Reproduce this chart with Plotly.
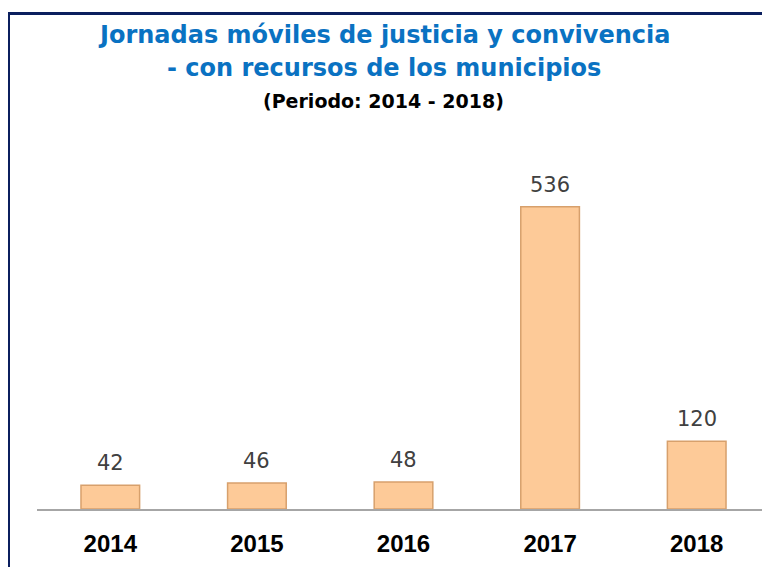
import plotly.graph_objects as go

years = ["2014", "2015", "2016", "2017", "2018"]
values = [42, 46, 48, 536, 120]
title_lines = ["Jornadas móviles de justicia y convivencia", "- con recursos de los municipios"]
subtitle = "(Periodo: 2014 - 2018)"

OFF = 8  # page body margin in the browser
W, H = 770 - OFF, 567 - OFF
L, R, T, B = 37 - OFF, 0, 170 - OFF, 58
pw, ph = W - L - R, H - T - B

def px_x(x):
    return (x - OFF - L) / pw

def px_y(y):
    return (H - B - (y - OFF)) / ph

fig = go.Figure()
fig.add_trace(go.Bar(
    x=years, y=values,
    marker=dict(color="#FDCA98", line=dict(color="#D7A06C", width=1.5)),
    width=0.4,
    hoverinfo="x+y",
))

for i, v in enumerate(values):
    fig.add_annotation(x=i, y=v, text=str(v), showarrow=False, xref="x", yref="y",
                       xanchor="center", yanchor="bottom", yshift=8,
                       font=dict(family="DejaVu Sans", size=21, color="#404040"))

fig.add_annotation(x=px_x(384), y=px_y(35), xref="paper", yref="paper", text="<b>" + title_lines[0] + "</b>",
                   xanchor="center", yanchor="middle",
                   showarrow=False, font=dict(family="DejaVu Sans", size=24, color="#0A72C2"))
fig.add_annotation(x=px_x(384), y=px_y(68), xref="paper", yref="paper", text="<b>" + title_lines[1] + "</b>",
                   xanchor="center", yanchor="middle",
                   showarrow=False, font=dict(family="DejaVu Sans", size=24, color="#0A72C2"))
fig.add_annotation(x=px_x(383), y=px_y(101), xref="paper", yref="paper", text="<b>" + subtitle + "</b>",
                   xanchor="center", yanchor="middle",
                   showarrow=False, font=dict(family="DejaVu Sans", size=19, color="#000000"))

# frame
fig.add_shape(type="line", xref="paper", yref="paper", x0=px_x(7), x1=px_x(780), y0=px_y(13.5), y1=px_y(13.5),
              line=dict(color="#0B1F5E", width=3))
fig.add_shape(type="line", xref="paper", yref="paper", x0=px_x(8.5), x1=px_x(8.5), y0=px_y(12), y1=px_y(580),
              line=dict(color="#0B1F5E", width=3))

fig.update_layout(
    width=W, height=H,
    margin=dict(l=L, r=R, t=T, b=B),
    paper_bgcolor="white", plot_bgcolor="white",
    showlegend=False,
    bargap=0.6,
    xaxis=dict(type="category", range=[-0.5, 4.5], showline=True, linecolor="#A6A6A6", linewidth=1.5,
               ticks="", showgrid=False,
               tickfont=dict(family="Liberation Sans", size=24, color="#000000", weight="bold"),
               ticklabelstandoff=12),
    yaxis=dict(range=[0, 601], visible=False, showgrid=False, zeroline=False),
)

fig.write_html("out.html")
